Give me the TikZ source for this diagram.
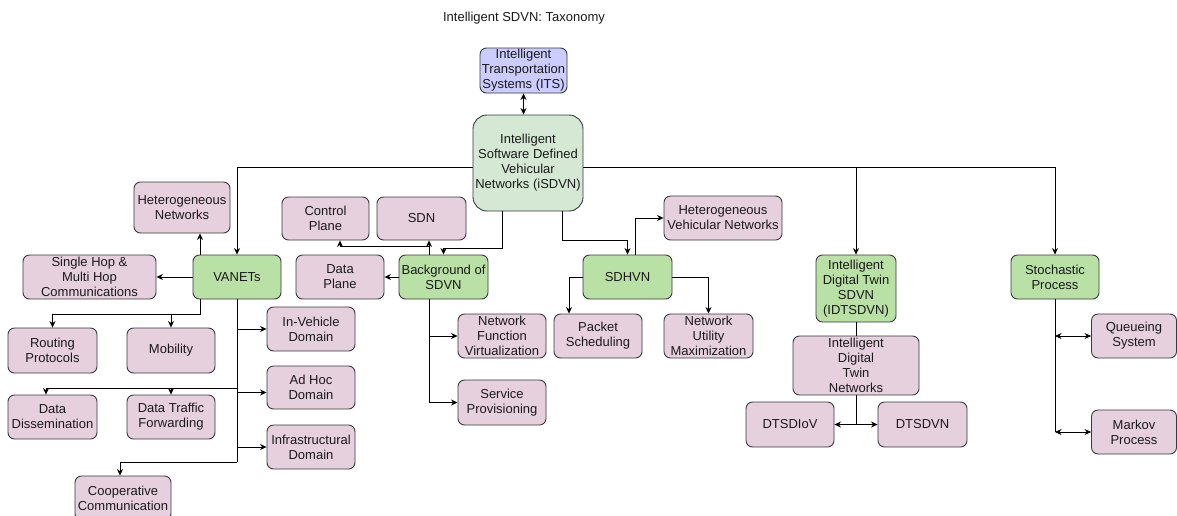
\documentclass[tikz,border=0pt]{standalone}
\usepackage{fontspec}
\setmainfont{Liberation Sans}
\usetikzlibrary{arrows.meta,calc}
\definecolor{pinkfill}{HTML}{E6D0DE}
\definecolor{greenfill}{HTML}{B9E0A5}
\definecolor{palegreen}{HTML}{D5E8D4}
\definecolor{lavender}{HTML}{CCCCFF}
\definecolor{edgegray}{HTML}{36393D}
\definecolor{inkgray}{HTML}{1A1A1A}

\tikzset{
  lbl/.style={font=\fontsize{13}{15}\selectfont, text=inkgray},
  box/.style={lbl, draw=edgegray, line width=0.9pt, rounded corners=6.5pt,
    fill=pinkfill, align=center, inner sep=0pt,
    minimum width=88pt, minimum height=44pt},
  topic/.style={box, fill=greenfill},
  link/.style={line width=0.8pt, ->},
  dlink/.style={line width=0.8pt, <->},
  wire/.style={line width=0.8pt}
}

\begin{document}
\begin{tikzpicture}[x=1pt, y=-1pt, >={Stealth[length=6.5pt,width=6pt]}]
\useasboundingbox (0,0) rectangle (1177,515);
\clip (0,0) rectangle (1177,515);
\fill[white] (0,0) rectangle (1177,515);

% title
\node[lbl] (title) at (524,18) {Intelligent SDVN: Taxonomy};

% root and its parent
\node[box, fill=lavender, minimum width=87pt, minimum height=45pt] (its) at (523.5,70.5)
  {Intelligent\\Transportation\\Systems (ITS)};
\node[box, fill=palegreen, rounded corners=14pt, minimum width=110pt, minimum height=96pt] (isdvn) at (528,163)
  {Intelligent\\Software Defined\\Vehicular\\Networks (iSDVN)};

% VANETs branch
\node[box, minimum width=96pt, minimum height=51pt] (hetnet) at (182,207.5) {Heterogeneous\\Networks};
\node[topic] (vanets) at (237,277) {VANETs};
\node[box, minimum width=133pt] (single) at (89.5,277) {Single Hop \&\\Multi Hop\\Communications};
\node[box, minimum width=89pt, minimum height=45pt] (routing) at (52.5,350.5) {Routing\\Protocols};
\node[box, minimum height=45pt] (mobility) at (171,350.5) {Mobility};
\node[box] (invehicle) at (311,329) {In-Vehicle\\Domain};
\node[box, minimum height=43pt] (adhoc) at (311,387.5) {Ad Hoc\\Domain};
\node[box] (infra) at (311,447) {Infrastructural\\Domain};
\node[box, minimum width=89pt] (dissem) at (52.5,417) {Data\\Dissemination};
\node[box] (dtf) at (171,417) {Data Traffic\\Forwarding};
\node[box, minimum width=96pt] (coop) at (123,498) {Cooperative\\Communication};

% SDVN background branch
\node[box, minimum width=87pt, minimum height=43pt] (control) at (325.5,218.5) {Control\\Plane};
\node[box, minimum width=89pt, minimum height=43pt] (sdn) at (421.5,218.5) {SDN};
\node[box] (dplane) at (340,277) {Data\\Plane};
\node[topic, minimum width=89pt] (bg) at (443.5,277) {Background of\\SDVN};
\node[box] (nfv) at (502,336) {Network\\Function\\Virtualization};
\node[box, minimum height=45pt] (service) at (502,402.5) {Service\\Provisioning};

% SDHVN branch
\node[topic, minimum width=89pt] (sdhvn) at (627.5,277) {SDHVN};
\node[box, minimum width=118pt] (hvn) at (723,218) {Heterogeneous\\Vehicular Networks};
\node[box] (packet) at (598,336) {Packet\\Scheduling};
\node[box, minimum width=89pt] (num) at (708.5,336) {Network\\Utility\\Maximization};

% digital twin branch
\node[topic, minimum width=80pt, minimum height=67pt] (idtsdvn) at (856,288.5)
  {Intelligent\\Digital Twin\\SDVN\\(IDTSDVN)};
\node[box, minimum width=126pt, minimum height=59pt] (idtn) at (856,365.5)
  {Intelligent\\Digital\\Twin\\Networks};
\node[box, minimum height=45pt] (dtsdiov) at (790,424.5) {DTSDIoV};
\node[box, minimum width=89pt, minimum height=45pt] (dtsdvn) at (922.5,424.5) {DTSDVN};

% stochastic branch
\node[topic] (stoch) at (1055,277) {Stochastic\\Process};
\node[box, minimum width=85pt] (queue) at (1134,336) {Queueing\\System};
\node[box, minimum width=85pt] (markov) at (1134,432) {Markov\\Process};

% ---- connectors ----
\coordinate (hy) at (0,167);
\draw[dlink] (its.south) -- (its.south |- isdvn.north);
\draw[link] (isdvn.west |- hy) -| (vanets.north);
\draw[link] (isdvn.east |- hy) -| (stoch.north);
\draw[link] (idtsdvn.north |- hy) -- (idtsdvn.north);

% iSDVN to its lower children
\coordinate (ib1) at ([xshift=-26pt]isdvn.south);
\coordinate (ib2) at ([xshift=34pt]isdvn.south);
\draw[link] (ib1) -- ++(0,37) -| (bg.north);
\draw[link] (ib2) -- ++(0,29) -| (sdhvn.north);

% background of SDVN
\coordinate (bgup) at ([xshift=-14.5pt]bg.north);
\coordinate (bgdn) at ([xshift=-14.5pt]bg.south);
\draw[link] (bgup) -- (bgup |- sdn.south);
\draw[link] ($(bgup)+(0,-8)$) -| ([xshift=14.5pt]control.south);
\draw[link] (bg.west) -- (dplane.east);
\draw[wire] (bgdn) -- (bgdn |- service.west);
\draw[link] (bgdn |- nfv.west) -- (nfv.west);
\draw[link] (bgdn |- service.west) -- (service.west);

% SDHVN
\draw[link] ([xshift=7.5pt]sdhvn.north) |- (hvn.west);
\draw[link] (sdhvn.west) -| ([xshift=-29pt]packet.north);
\draw[link] (sdhvn.east) -| (num.north);

% VANETs
\coordinate (vtop) at ([xshift=-37pt]vanets.north);
\coordinate (vbot) at ([xshift=-37pt]vanets.south);
\coordinate (vj) at ($(vbot)+(0,15)$);
\draw[link] (vtop) -- (vtop |- hetnet.south);
\draw[link] (vanets.west) -- (single.east);
\draw[link] (vbot) -- (vj) -| (routing.north);
\draw[link] (vj) -| (mobility.north);

\coordinate (tend) at (237,462);
\coordinate (dy) at (0,388);
\coordinate (adin) at ([yshift=-5pt]adhoc.west);
\draw[wire] (vanets.south) -- (tend);
\draw[link] (vanets.south |- invehicle.west) -- (invehicle.west);
\draw[link] (vanets.south |- adin) -- (adin);
\draw[link] (vanets.south |- infra.west) -- (infra.west);
\draw[link] (vanets.south |- dy) -| ([xshift=-6.5pt]dissem.north);
\draw[link] (dtf.north |- dy) -- (dtf.north);
\draw[link] (tend) -| ([xshift=-3pt]coop.north);

% digital twin
\draw[wire] (idtsdvn.south) -- (idtn.north);
\draw[wire] (idtn.south) -- (idtn.south |- dtsdiov.east);
\draw[link] (idtn.south |- dtsdiov.east) -- (dtsdiov.east);
\draw[link] (idtn.south |- dtsdvn.west) -- (dtsdvn.west);

% stochastic process
\draw[wire] (stoch.south) -- (stoch.south |- markov.west);
\draw[dlink] (stoch.south |- queue.west) -- (queue.west);
\draw[dlink] (stoch.south |- markov.west) -- (markov.west);
\end{tikzpicture}
\end{document}
